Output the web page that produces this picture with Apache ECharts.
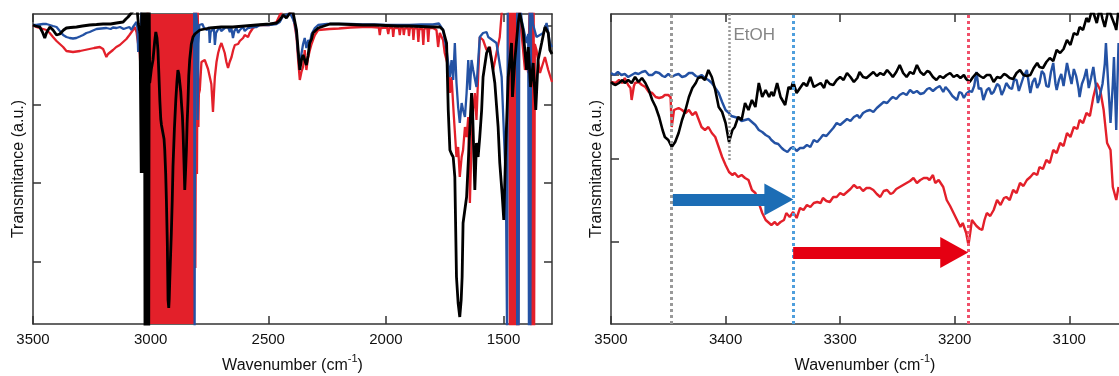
<!DOCTYPE html>
<html><head><meta charset="utf-8">
<script src="https://cdn.jsdelivr.net/npm/echarts@6/dist/echarts.min.js"></script>
<style>html,body{margin:0;padding:0;background:#fff}#c{width:1119px;height:376px}</style>
</head><body><div id="c"></div>
<script>
// ---------- tick labels ----------
const leftXTicks = [3500, 3000, 2500, 2000, 1500];
const rightXTicks = [3500, 3400, 3300, 3200, 3100];
const leftYTicks = [62.3, 141, 219.7, 298.4];
const rightYTicks = [82.3, 165.7, 249];
const leftRange = [1294, 3500];
const rightRange = [3056.6, 3500];

// ---------- left panel spectra [wavenumber, transmittance a.u.] ----------
const leftRed = [[3500,299],[3486,297],[3472,296],[3457,295],[3443,294],[3429,291],[3415,287],[3400,283],[3386,280],[3372,277],[3358,273],[3351,272],[3330,272],[3300,273],[3280,274],[3260,275],[3240,276],[3216,277],[3202,275],[3195,271],[3188,267],[3181,270],[3174,272],[3160,274],[3146,277],[3131,279],[3117,282],[3103,285],[3090,289],[3082,290],[3075,294],[3068,297],[3060,292],[3053,280],[3046,270],[3040,240],[3030,200],[3010,330],[2815,330],[2812,330],[2810,56],[2806,330],[2803,150],[2800,330],[2797,197],[2795,230],[2791,234],[2784,262],[2777,261],[2770,264],[2763,262],[2756,255],[2749,254],[2742,240],[2735,212],[2731,230],[2727,247],[2720,262],[2713,271],[2706,277],[2699,281],[2692,276],[2685,271],[2678,262],[2671,256],[2664,262],[2656,267],[2649,274],[2642,279],[2635,281],[2628,280],[2621,283],[2614,282],[2607,286],[2600,289],[2593,287],[2586,287],[2579,291],[2572,293],[2565,296],[2550,298],[2536,299],[2520,299],[2494,299],[2480,300],[2465,302],[2451,309],[2437,314],[2423,313],[2408,312],[2395,309],[2387,307],[2380,287],[2373,264],[2366,244],[2359,252],[2352,257],[2345,274],[2338,254],[2331,266],[2323,274],[2316,280],[2310,284],[2302,289],[2288,294],[2281,295],[2240,295],[2200,295.5],[2150,296.5],[2100,297],[2060,297],[2030,296.5],[2026,289],[2022,296],[1995,296.5],[1990,290],[1986,296],[1972,296],[1969,287],[1965,296],[1945,296],[1941,289],[1937,296],[1927,296],[1924,289],[1920,295.5],[1905,296],[1902,288],[1898,296],[1886,296],[1883,284],[1879,295.5],[1866,296],[1862,282],[1858,295],[1845,295],[1841,279],[1837,295],[1824,296],[1820,282],[1816,296],[1813,297],[1800,296],[1785,294],[1778,277],[1771,291],[1757,284],[1750,271],[1735,257],[1728,231],[1721,247],[1711,207],[1700,167],[1693,177],[1686,147],[1678,167],[1672,174],[1664,197],[1657,187],[1650,207],[1643,121],[1636,181],[1629,214],[1622,231],[1615,204],[1608,247],[1601,287],[1587,284],[1572,274],[1558,277],[1544,254],[1530,271],[1516,287],[1508,311],[1502,320],[1490,330],[1476,330],[1473,-10],[1470,330],[1467,-10],[1464,330],[1461,-10],[1458,330],[1455,-10],[1452,330],[1449,-10],[1446,330],[1443,-10],[1440,330],[1437,-10],[1434,330],[1430,307],[1423,307],[1409,254],[1402,261],[1395,251],[1388,330],[1383,330],[1381,-10],[1378,330],[1375,-10],[1372,330],[1370,-10],[1367,280],[1360,274],[1345,251],[1324,267],[1310,254],[1294,242]];
const leftRedSaturatedBand = [[3006.8,330],[2812.6,330]];
const leftBlue = [[3500,299],[3486,299],[3472,299.5],[3457,300],[3443,300],[3429,299],[3415,298],[3400,297],[3386,293],[3372,289],[3358,287],[3344,286],[3330,285.5],[3316,286],[3301,287.5],[3287,289],[3273,291],[3259,292],[3245,293.5],[3230,295],[3210,295.5],[3188,296],[3170,295],[3160,296.5],[3145,296],[3130,297],[3115,295],[3103,296],[3090,297],[3082,294],[3075,297],[3068,299],[3060,302],[3056,296],[3053,272],[3050,292],[3046,285],[3042,250],[3040,330],[2815,330],[2813,-10],[2811,320],[2806,320],[2802,300],[2800,204],[2797,280],[2793,299],[2787,297],[2780,300],[2773,296],[2766,298],[2760,294],[2752,297],[2749,281],[2745,292],[2738,290],[2731,296],[2727,279],[2722,291],[2715,289],[2708,297],[2700,293],[2692,291],[2685,296],[2678,294],[2671,297],[2663,292],[2657,296],[2650,286],[2644,293],[2635,296],[2628,291],[2621,294],[2614,295],[2607,297],[2600,293],[2593,292],[2586,296],[2579,298],[2565,297],[2550,297],[2536,299],[2500,299],[2480,299.5],[2465,300],[2451,302],[2437,308],[2423,309],[2408,311],[2395,305],[2387,300],[2380,290],[2373,270],[2366,258],[2359,270],[2352,280],[2345,286],[2338,276],[2330,284],[2323,281],[2316,290],[2310,291],[2302,296],[2288,299],[2250,300],[2200,300],[2150,300],[2100,299.5],[2050,299.5],[2000,299],[1950,299],[1900,299],[1850,299.5],[1800,299.5],[1775,300.5],[1770,299],[1757,294],[1742,274],[1728,247],[1721,264],[1714,244],[1707,281],[1700,241],[1693,217],[1686,201],[1678,221],[1672,214],[1664,207],[1657,231],[1650,264],[1643,234],[1636,264],[1629,254],[1615,237],[1601,287],[1587,291],[1572,292],[1565,287],[1558,289],[1530,281],[1508,247],[1490,141],[1485,-10],[1482,330],[1442,330],[1442,-10],[1439,330],[1436,-10],[1433,330],[1423,304],[1402,281],[1395,290],[1392,-10],[1389,330],[1386,-10],[1383,330],[1375,300],[1360,287],[1331,291],[1317,301],[1303,281],[1294,277]];
const leftBlack = [[3500,299],[3490,298],[3471,297],[3460,292],[3450,286],[3443,291],[3436,294],[3428,297],[3422,297],[3415,294],[3408,292],[3400,289],[3394,287],[3386,290],[3379,292],[3370,294],[3358,296],[3340,296.5],[3315,297],[3290,298],[3259,299],[3230,299.5],[3202,300],[3170,300],[3145,301],[3117,302],[3105,305],[3096,307],[3082,311],[3068,315],[3058,316],[3052,300],[3045,290],[3040,151],[3038,320],[3036,151],[3034,320],[3032,151],[3030,320],[3028,151],[3026,320],[3024,-10],[3022,320],[3020,-10],[3018,320],[3016,-10],[3014,320],[3012,-10],[3010,320],[3008,-10],[3006,320],[3004,241],[2997,255],[2990,264],[2983,282],[2978,292],[2973,286],[2969,274],[2965,250],[2961,224],[2957,205],[2954,199],[2950,198],[2947,197],[2943,185],[2940,174],[2936,150],[2933,124],[2929,80],[2926,24],[2923,16],[2921,25],[2919,41],[2915,70],[2912,91],[2908,125],[2905,157],[2899,195],[2893,224],[2888,243],[2884,254],[2880,250],[2876,241],[2872,232],[2869,221],[2865,208],[2862,191],[2858,160],[2855,134],[2852,150],[2848,174],[2845,200],[2841,224],[2838,248],[2834,264],[2827,280],[2820,287],[2812,290],[2805,292],[2791,294],[2770,295],[2749,296],[2700,297],[2651,297],[2600,298],[2550,299],[2494,300],[2465,301],[2451,304],[2437,309],[2423,306],[2408,311],[2395,312],[2387,310],[2380,294],[2373,274],[2366,254],[2359,264],[2352,269],[2345,271],[2338,259],[2331,268],[2324,281],[2316,285],[2310,291],[2302,293],[2288,296],[2281,297],[2238,300],[2200,300],[2150,299.5],[2100,299],[2050,299],[2000,298.5],[1950,298],[1900,298],[1850,297.5],[1800,297],[1770,297],[1757,294],[1742,281],[1735,214],[1728,174],[1721,170],[1714,167],[1707,147],[1700,47],[1693,21],[1686,7],[1680,24],[1676,47],[1672,101],[1657,127],[1646,181],[1636,231],[1632,217],[1622,134],[1615,181],[1608,167],[1601,187],[1593,214],[1587,247],[1572,271],[1561,277],[1551,264],[1537,241],[1523,197],[1516,161],[1506,130],[1499,104],[1490,181],[1480,247],[1466,281],[1462,227],[1452,264],[1438,301],[1431,311],[1417,294],[1402,254],[1395,277],[1385,237],[1374,261],[1363,214],[1353,264],[1338,281],[1324,297],[1310,291],[1303,274],[1294,270]];

// ---------- right panel spectra ----------
const rightRed = [[3500,242],[3496,241],[3493,244],[3490,241],[3488,246],[3485,239],[3483,236],[3482,224],[3480,238],[3479,241],[3476,242],[3473,239],[3470,237],[3467,232],[3464,231],[3461,227],[3458,226],[3455,227],[3453,229],[3450,229],[3448,227],[3447,197],[3445,214],[3444,212],[3441,216],[3438,214],[3435,211],[3432,214],[3429,209],[3426,212],[3424,206],[3421,197],[3418,194],[3415,197],[3412,191],[3409,187],[3406,177],[3403,167],[3400,159],[3397,152],[3394,149],[3392,151],[3389,147],[3386,149],[3383,146],[3380,144],[3377,134],[3374,131],[3371,121],[3368,111],[3365,104],[3362,101],[3360,99],[3357,102],[3355,99],[3352,102],[3349,104],[3347,111],[3344,107],[3341,112],[3338,106],[3335,116],[3332,114],[3329,119],[3326,117],[3323,121],[3320,122],[3317,121],[3315,126],[3312,123],[3309,122],[3306,127],[3303,127],[3300,131],[3297,129],[3294,132],[3291,135],[3288,139],[3285,136],[3283,137],[3280,133],[3277,136],[3274,136],[3271,134],[3268,130],[3265,127],[3262,133],[3259,134],[3256,130],[3254,131],[3251,135],[3248,137],[3245,139],[3242,141],[3239,143],[3236,146],[3233,141],[3230,144],[3227,146],[3224,146],[3222,144],[3219,149],[3217,141],[3214,144],[3210,137],[3207,124],[3204,118],[3201,111],[3198,104],[3195,97],[3193,101],[3190,91],[3188,79],[3186,95],[3185,104],[3183,101],[3181,98],[3178,95],[3176,94],[3174,104],[3172,111],[3169,108],[3166,114],[3163,124],[3160,119],[3157,126],[3155,127],[3152,124],[3149,134],[3146,131],[3143,141],[3140,138],[3137,144],[3134,147],[3131,151],[3128,149],[3126,157],[3123,155],[3120,164],[3117,161],[3114,174],[3111,171],[3108,181],[3105,178],[3102,191],[3099,187],[3096,197],[3093,195],[3091,204],[3088,201],[3085,211],[3082,208],[3079,227],[3076,241],[3073,234],[3070,214],[3067,181],[3064,174],[3062,137],[3059,124],[3057,137]];
const rightBlue = [[3500,251],[3497,249],[3494,252],[3491,249],[3488,250],[3485,247],[3482,249],[3479,251],[3476,250],[3473,252],[3470,253],[3467,249],[3464,249],[3461,252],[3458,251],[3455,248],[3453,247],[3450,250],[3447,247],[3444,249],[3441,250],[3438,247],[3435,248],[3432,251],[3429,251],[3426,248],[3424,247],[3421,249],[3418,246],[3415,244],[3412,241],[3409,236],[3406,231],[3403,222],[3400,214],[3397,211],[3395,208],[3392,207],[3389,206],[3386,203],[3383,204],[3380,205],[3377,202],[3374,199],[3371,194],[3368,192],[3365,189],[3362,187],[3360,184],[3357,181],[3354,180],[3351,176],[3349,174],[3346,172],[3343,176],[3341,177],[3338,173],[3335,176],[3332,176],[3329,179],[3326,177],[3323,184],[3320,182],[3317,186],[3315,189],[3312,188],[3309,192],[3306,196],[3303,201],[3300,199],[3297,202],[3294,205],[3291,203],[3288,207],[3285,209],[3283,206],[3280,211],[3277,213],[3274,214],[3271,212],[3268,216],[3265,219],[3262,222],[3259,221],[3256,225],[3254,227],[3251,225],[3248,229],[3245,231],[3242,229],[3239,234],[3236,231],[3233,233],[3230,230],[3227,231],[3224,235],[3222,236],[3219,233],[3216,236],[3213,238],[3210,232],[3208,237],[3205,233],[3202,228],[3200,226],[3198,224],[3196,232],[3194,231],[3192,226],[3190,230],[3187,233],[3185,232],[3183,238],[3181,252],[3179,235],[3177,236],[3175,224],[3172,234],[3170,236],[3168,230],[3166,232],[3163,240],[3161,238],[3159,229],[3157,234],[3155,241],[3152,236],[3150,235],[3148,245],[3146,244],[3144,233],[3142,240],[3140,247],[3137,254],[3135,238],[3134,231],[3132,242],[3130,246],[3128,236],[3126,241],[3124,253],[3122,250],[3120,238],[3118,237],[3116,252],[3114,261],[3112,240],[3111,234],[3109,244],[3107,250],[3105,238],[3102,261],[3100,250],[3098,240],[3096,255],[3094,248],[3092,236],[3091,227],[3089,240],[3087,246],[3085,255],[3083,236],[3081,246],[3079,257],[3077,240],[3075,221],[3073,230],[3071,240],[3069,260],[3068,281],[3066,240],[3064,201],[3062,240],[3061,267],[3060,230],[3059,194],[3058,240],[3057,281]];
const rightBlack = [[3500,242],[3498,240],[3496,239],[3493,241],[3490,244],[3488,241],[3485,244],[3482,241],[3479,247],[3476,242],[3473,246],[3470,241],[3467,234],[3464,224],[3461,217],[3458,207],[3455,194],[3453,187],[3450,184],[3447,177],[3444,182],[3441,191],[3438,204],[3435,214],[3432,227],[3429,236],[3426,241],[3424,246],[3421,247],[3418,244],[3415,254],[3412,247],[3409,234],[3406,217],[3403,212],[3400,201],[3397,182],[3394,194],[3392,197],[3389,207],[3386,204],[3383,221],[3380,214],[3377,224],[3374,217],[3371,241],[3368,227],[3365,234],[3362,227],[3360,232],[3358,228],[3355,241],[3352,227],[3348,219],[3345,237],[3343,235],[3341,242],[3338,231],[3335,236],[3332,241],[3329,238],[3326,247],[3323,237],[3320,239],[3317,241],[3314,236],[3312,244],[3309,240],[3306,239],[3303,244],[3300,247],[3297,244],[3294,251],[3291,247],[3288,242],[3285,246],[3283,252],[3280,247],[3277,246],[3274,249],[3271,252],[3268,248],[3265,251],[3262,249],[3259,254],[3256,250],[3254,247],[3251,252],[3248,259],[3245,251],[3242,247],[3239,252],[3236,250],[3233,259],[3230,252],[3227,249],[3224,253],[3222,252],[3219,247],[3216,244],[3213,248],[3210,246],[3207,249],[3204,251],[3201,247],[3198,249],[3195,246],[3192,249],[3190,245],[3187,242],[3184,247],[3181,251],[3178,248],[3175,246],[3172,249],[3169,249],[3166,242],[3163,247],[3160,246],[3157,250],[3155,249],[3152,246],[3149,245],[3146,251],[3143,254],[3140,249],[3137,248],[3134,249],[3131,256],[3128,261],[3126,257],[3123,256],[3120,262],[3117,266],[3114,263],[3111,274],[3108,271],[3105,275],[3102,284],[3099,279],[3096,291],[3093,289],[3091,297],[3088,294],[3085,306],[3083,302],[3080,315],[3078,308],[3076,301],[3074,312],[3073,315],[3071,305],[3069,297],[3067,308],[3066,315],[3064,310],[3062,304],[3060,298],[3059,294],[3057,315]];

// ---------- annotations (data coordinates) ----------
const grayMarkerWn = 3447;
const etohMarker = [[3397, 164], [3397, 310]];
const blueMarkerWn = 3341;
const redMarkerWn = 3188;
const blueArrow = [[3446, 124.5], [3353.5, 124.5]];
const redArrow = [[3341, 71.5], [3200.4, 71.5]];
const etohLabelPos = [3375, 289];

const RED = '#e3202a', BLUE = '#2452a4', BLACK = '#000';
const AX = '#333';
const FONT = 'Liberation Sans, Arial, sans-serif';

function xAx(gridIndex, range, ticks, bottom) {
  return {
    type: 'value', gridIndex, min: range[0], max: range[1], inverse: true,
    position: bottom ? 'bottom' : 'top',
    axisLine: { show: true, onZero: false, lineStyle: { color: AX, width: 1.5 } },
    axisTick: { show: true, inside: true, length: 8, customValues: ticks, lineStyle: { color: AX, width: 1.5 } },
    axisLabel: bottom ? { show: true, customValues: ticks, formatter: v => String(v), color: '#111', fontSize: 15, fontFamily: FONT, margin: 8 } : { show: false },
    splitLine: { show: false },
    name: bottom ? 'Wavenumber (cm{sup|-1})' : '',
    nameLocation: 'middle', nameGap: 29,
    nameTextStyle: { color: '#111', fontSize: 16, fontFamily: FONT, lineHeight: 26,
      rich: { sup: { fontSize: 11, fontFamily: FONT, color: '#111', verticalAlign: 'top', lineHeight: 26 } } }
  };
}
function yAx(gridIndex, ticks, left, showLine) {
  return {
    type: 'value', gridIndex, min: 0, max: 310,
    position: left ? 'left' : 'right',
    axisLine: { show: showLine, onZero: false, lineStyle: { color: AX, width: 1.5 } },
    axisTick: { show: showLine, inside: true, length: 8, customValues: ticks, lineStyle: { color: AX, width: 1.5 } },
    axisLabel: { show: false },
    splitLine: { show: false },
    name: left ? 'Transmitance (a.u.)' : '',
    nameLocation: 'middle', nameGap: 6, nameRotate: 90,
    nameTextStyle: { color: '#111', fontSize: 16, fontFamily: FONT }
  };
}
function line(name, data, color, xi, yi, width, z) {
  return { name, type: 'line', data, xAxisIndex: xi, yAxisIndex: yi, showSymbol: false, symbol: 'none',
    lineStyle: { color, width }, itemStyle: { color }, z: z || 2, clip: true, animation: false };
}

const chart = echarts.init(document.getElementById('c'), null, { renderer: 'canvas' });
chart.setOption({
  animation: false,
  backgroundColor: '#fff',
  grid: [
    { left: 33, top: 14, width: 519, height: 310, containLabel: false, outerBoundsMode: 'none' },
    { left: 611, top: 14, width: 508, height: 310, containLabel: false, outerBoundsMode: 'none' }
  ],
  xAxis: [
    xAx(0, leftRange, leftXTicks, true), xAx(0, leftRange, leftXTicks, false),
    xAx(1, rightRange, rightXTicks, true), xAx(1, rightRange, rightXTicks, false)
  ],
  yAxis: [
    yAx(0, leftYTicks, true, true), Object.assign(yAx(0, leftYTicks, false, true), { name: '' }),
    yAx(1, rightYTicks, true, true)
  ],
  series: [
    { name: 'red saturated', type: 'line', data: leftRedSaturatedBand, xAxisIndex: 0, yAxisIndex: 0, symbol: 'none',
      lineStyle: { color: RED, width: 0 }, areaStyle: { color: RED, opacity: 1, origin: 'start' }, z: 1 },
    line('red', leftRed, RED, 0, 0, 2.3),
    line('blue', leftBlue, BLUE, 0, 0, 2.3),
    line('black', leftBlack, BLACK, 0, 0, 2.8, 3),
    Object.assign(line('red r', rightRed, RED, 2, 2, 2.4), {
      markLine: { silent: true, symbol: 'none', label: { show: false }, animation: false,
        lineStyle: { color: '#f0506a', width: 3, type: [3, 3] },
        data: [{ xAxis: redMarkerWn }] }
    }),
    Object.assign(line('blue r', rightBlue, BLUE, 2, 2, 2.4), {
      markLine: { silent: true, symbol: 'none', label: { show: false }, animation: false,
        lineStyle: { color: '#4f9fdd', width: 3, type: [3, 3] },
        data: [{ xAxis: blueMarkerWn }] }
    }),
    Object.assign(line('black r', rightBlack, BLACK, 2, 2, 2.6, 3), {
      markLine: { silent: true, symbol: 'none', label: { show: false }, animation: false,
        lineStyle: { color: '#999', width: 3, type: [3, 3] },
        data: [
          { xAxis: grayMarkerWn },
          [{ coord: etohMarker[0], lineStyle: { color: '#999', width: 2.5, type: [2, 2] } }, { coord: etohMarker[1], lineStyle: { color: '#999', width: 2.5, type: [2, 2] } }]
        ] }
    }),
    { name: 'arrows', type: 'line', data: [], xAxisIndex: 2, yAxisIndex: 2, z: 5,
      markLine: { silent: true, animation: false, symbol: ['none', 'triangle'], label: { show: false },
        data: [
          [{ coord: blueArrow[0], symbolSize: [32, 29], lineStyle: { color: '#1c6db5', width: 12, type: 'solid' }, itemStyle: { color: '#1c6db5' } },
           { coord: blueArrow[1], symbolSize: [32, 29] }],
          [{ coord: redArrow[0], symbolSize: [31, 28], lineStyle: { color: '#e50012', width: 12, type: 'solid' }, itemStyle: { color: '#e50012' } },
           { coord: redArrow[1], symbolSize: [31, 28] }]
        ] } },
    { name: 'EtOH', type: 'scatter', data: [etohLabelPos], xAxisIndex: 2, yAxisIndex: 2, symbolSize: 1,
      itemStyle: { color: 'rgba(0,0,0,0)' }, silent: true, z: 6,
      label: { show: true, position: 'inside', formatter: 'EtOH', color: '#666', fontSize: 17, fontFamily: FONT } }
  ]
});
</script>
</body></html>
